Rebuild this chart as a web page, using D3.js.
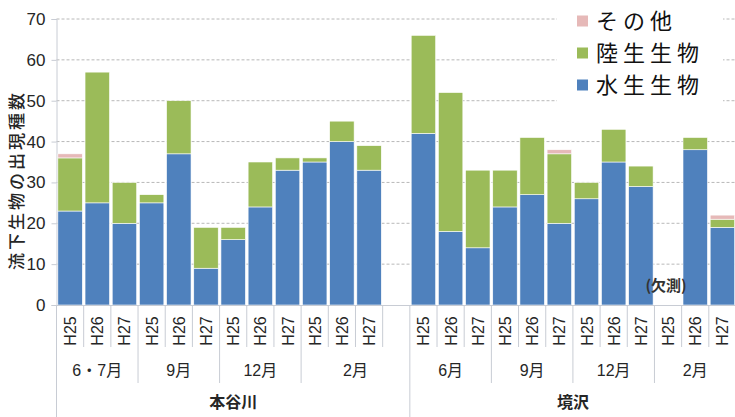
<!DOCTYPE html>
<html><head><meta charset="utf-8">
<script src="https://cdn.jsdelivr.net/npm/d3@7/dist/d3.min.js"></script>
<style>
html,body{margin:0;padding:0;background:#fff;}
svg{display:block;}
</style></head>
<body>
<svg id="chart" width="735" height="417"></svg>
<script>
// ---- data ----
const siteNames = ["本谷川", "境沢"];
const monthNames = [["6・7月", "9月", "12月", "2月"], ["6月", "9月", "12月", "2月"]];
const yearLabels = ["H25", "H26", "H27"];
const seriesNames = ["水生生物", "陸生生物", "その他"];
const seriesColors = ["#4f81bd", "#9bbb59", "#e6b9b8"];
// 25 slots: 12 (本谷川) + 1 blank + 12 (境沢); null = no bar
const aquatic     = [23, 25, 20, 25, 37, 9, 16, 24, 33, 35, 40, 33, null, 42, 18, 14, 24, 27, 20, 26, 35, 29, null, 38, 19];
const terrestrial = [13, 32, 10, 2, 13, 10, 3, 11, 3, 1, 5, 6, null, 24, 34, 19, 9, 14, 17, 4, 8, 5, null, 3, 2];
const other       = [1, 0, 0, 0, 0, 0, 0, 0, 0, 0, 0, 0, null, 0, 0, 0, 0, 0, 1, 0, 0, 0, null, 0, 1];
const yTicks = [0, 10, 20, 30, 40, 50, 60, 70];
const missingLabel = "(欠測)";
const yTitle = "流下生物の出現種数";

// ---- categories ----
const cats = [];
siteNames.forEach((s, si) => {
  monthNames[si].forEach(m => {
    yearLabels.forEach(yl => cats.push({site: s, month: m, year: yl}));
  });
  if (si === 0) cats.push({site: s, month: monthNames[si][3], year: ""});
});
cats.forEach((c, i) => { c.key = i; });

const rows = cats.map((c, i) => ({
  key: i,
  "水生生物": aquatic[i] || 0,
  "陸生生物": terrestrial[i] || 0,
  "その他": other[i] || 0,
  present: aquatic[i] != null
}));

// ---- layout ----
const svg = d3.select("#chart");
const L = 56.5, R = 736, T = 19, B = 305;
const x = d3.scaleBand().domain(cats.map(c => c.key)).range([L, R]).paddingInner(0.1).paddingOuter(0.05);
const y = d3.scaleLinear().domain([0, 70]).range([B, T]);
const slotLeft = i => L + i * (R - L) / cats.length;

const latin = "'Liberation Sans', Arial, 'Noto Sans CJK JP', sans-serif";
const jp = "'Liberation Sans', 'Noto Sans CJK JP', sans-serif";

// gridlines
svg.append("g").selectAll("line").data(yTicks.filter(t => t > 0)).join("line")
  .attr("x1", L).attr("x2", R).attr("y1", d => y(d)).attr("y2", d => y(d))
  .attr("stroke", "#b8b8b8").attr("stroke-width", 1).attr("stroke-dasharray", "3,2");

// y axis
const yAxis = svg.append("g").attr("transform", `translate(${L},0)`)
  .call(d3.axisLeft(y).tickValues(yTicks).tickSize(5).tickPadding(6));
yAxis.select(".domain").attr("stroke", "#c8ccd4");
yAxis.selectAll(".tick line").attr("stroke", "#c8ccd4");
yAxis.selectAll("text").attr("font-family", latin).attr("font-size", 17).attr("fill", "#262626");

// stacked bars
const stack = d3.stack().keys(seriesNames)(rows);
svg.append("g").selectAll("g").data(stack).join("g")
  .attr("fill", (d, i) => seriesColors[i])
  .selectAll("rect").data(d => d.filter(p => p.data.present && p[1] > p[0])).join("rect")
  .attr("x", p => x(p.data.key))
  .attr("width", x.bandwidth())
  .attr("y", p => y(p[1]))
  .attr("height", p => y(p[0]) - y(p[1]))
  .attr("stroke", "#ffffff").attr("stroke-width", 0.6);

// x axis baseline
svg.append("line").attr("x1", L).attr("x2", R).attr("y1", B + 0.5).attr("y2", B + 0.5)
  .attr("stroke", "#c8ccd4");

// x axis: tick separators
const axisCol = "#c8ccd4";
const boundaries = d3.range(cats.length + 1);
svg.append("g").selectAll("line").data(boundaries).join("line")
  .attr("x1", i => slotLeft(i)).attr("x2", i => slotLeft(i))
  .attr("y1", B).attr("y2", i => {
    const a = cats[i - 1], b = cats[i];
    if (!a || !b || a.site !== b.site) return 417;
    if (a.month !== b.month) return 383;
    return 347;
  })
  .attr("stroke", axisCol).attr("stroke-width", 1);

// year labels (rotated)
svg.append("g").selectAll("text").data(cats.filter(c => c.year)).join("text")
  .attr("transform", c => `translate(${x(c.key) + x.bandwidth() / 2 + 6},331) rotate(-90)`)
  .attr("text-anchor", "middle")
  .attr("font-family", latin).attr("font-size", 16).attr("fill", "#262626")
  .text(c => c.year);

// month groups
const monthGroups = [];
cats.forEach((c, i) => {
  const last = monthGroups[monthGroups.length - 1];
  if (last && last.site === c.site && last.month === c.month) last.end = i + 1;
  else monthGroups.push({site: c.site, month: c.month, start: i, end: i + 1});
});
svg.append("g").selectAll("text").data(monthGroups).join("text")
  .attr("x", g => (slotLeft(g.start) + slotLeft(g.end)) / 2)
  .attr("y", 376)
  .attr("text-anchor", "middle")
  .attr("font-family", jp).attr("font-size", 16).attr("fill", "#262626")
  .text(g => g.month);

// site groups
const siteGroups = siteNames.map(s => {
  const idx = cats.map((c, i) => c.site === s ? i : -1).filter(i => i >= 0);
  return {site: s, start: idx[0], end: idx[idx.length - 1] + 1};
});
svg.append("g").selectAll("text").data(siteGroups).join("text")
  .attr("x", g => (slotLeft(g.start) + slotLeft(g.end)) / 2)
  .attr("y", 408)
  .attr("text-anchor", "middle")
  .attr("font-family", "'Noto Sans CJK JP', sans-serif").attr("font-weight", "bold")
  .attr("font-size", 16).attr("fill", "#262626")
  .text(g => g.site);

// missing annotation
const missIdx = cats.findIndex((c, i) => c.site === siteNames[1] && aquatic[i] == null);
svg.append("text")
  .attr("x", x(missIdx) + x.bandwidth() / 2 - 2)
  .attr("y", 291)
  .attr("text-anchor", "middle")
  .attr("font-family", "'Noto Sans CJK JP', sans-serif").attr("font-weight", "bold")
  .attr("font-size", 15).attr("fill", "#333")
  .text(missingLabel);

// y title
svg.append("text")
  .attr("transform", "translate(23,180) rotate(-90)")
  .attr("text-anchor", "middle")
  .attr("font-family", "'Noto Sans CJK JP', sans-serif").attr("font-weight", "500")
  .attr("font-size", 17).attr("letter-spacing", 3).attr("fill", "#262626")
  .text(yTitle);

// legend
const lg = svg.append("g");
lg.append("rect").attr("x", 557).attr("y", 3).attr("width", 166).attr("height", 100).attr("fill", "#fff");
const legendOrder = [2, 1, 0];
legendOrder.forEach((si, k) => {
  const cy = 21 + k * 32;
  lg.append("rect").attr("x", 577).attr("y", cy - 5.5).attr("width", 11).attr("height", 11)
    .attr("fill", seriesColors[si]);
  lg.append("text").attr("x", 596).attr("y", cy + 8)
    .attr("font-family", "'Noto Sans CJK JP', sans-serif")
    .attr("font-size", 22).attr("letter-spacing", 5).attr("fill", "#111")
    .text(seriesNames[si]);
});
</script>
</body></html>
